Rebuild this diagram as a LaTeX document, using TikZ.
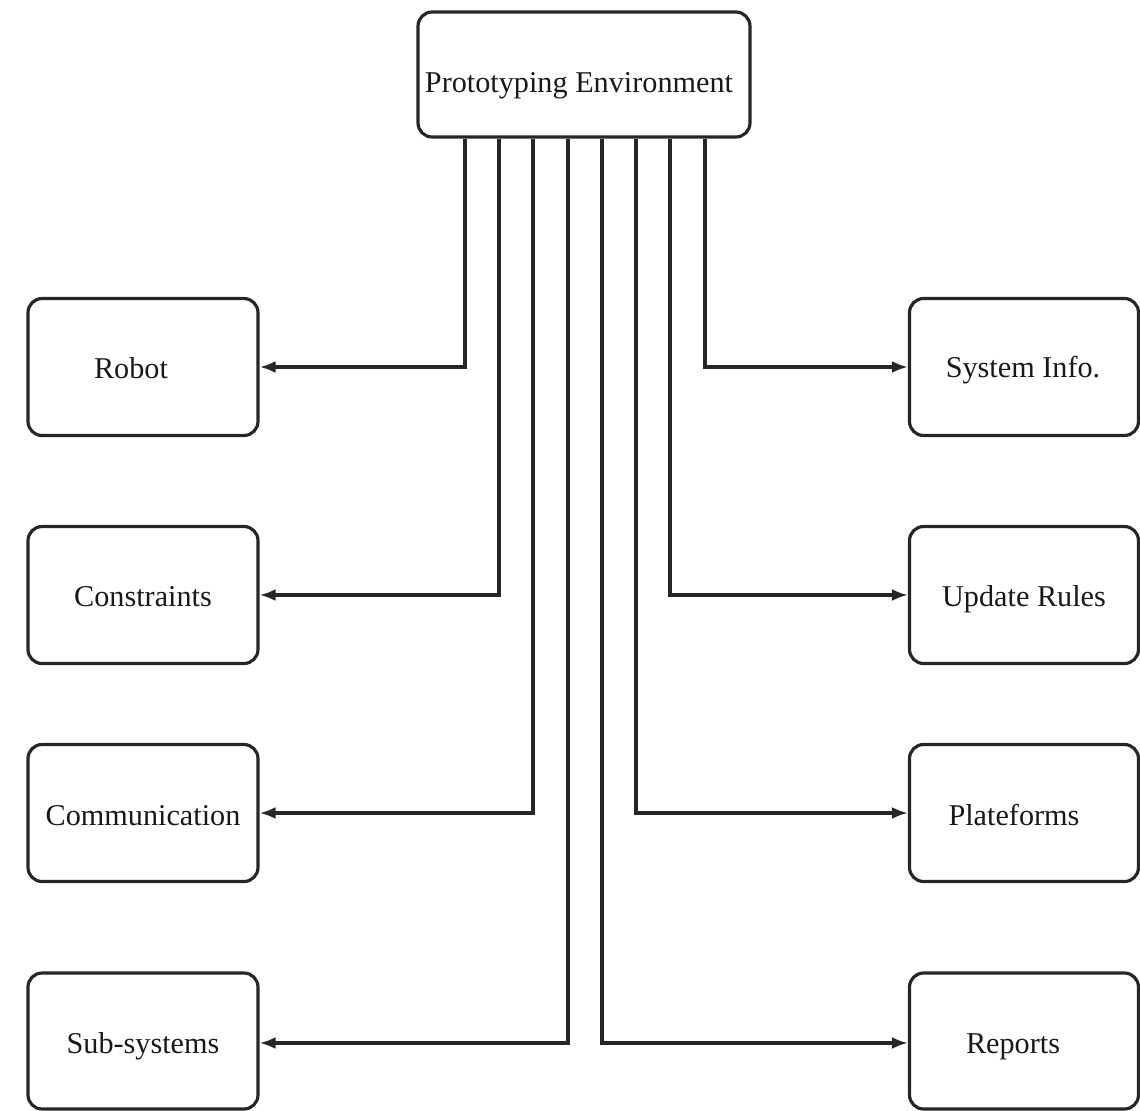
\documentclass[tikz,border=0pt]{standalone}
\usepackage{fontspec}
\setmainfont{Liberation Serif}
\usetikzlibrary{arrows.meta}
\begin{document}
\begin{tikzpicture}[x=0.02cm,y=-0.02cm,
  box/.style={draw=black!85,line width=1.8pt,rounded corners=0.28cm,inner sep=0pt,minimum width=4.58cm,minimum height=2.74cm},
  lbl/.style={font=\fontsize{17.2pt}{20pt}\selectfont,text=black!90,inner sep=0pt,anchor=base},
  arr/.style={draw=black!85,line width=1.8pt,-{Latex[length=0.32cm,width=0.24cm]}}]
\useasboundingbox (0,0) rectangle (1140,1110);
% top box
\node[box,minimum width=6.64cm,minimum height=2.5cm] (top) at (584,74.5) {};
\node[lbl] (topT) at (579,92) {Prototyping Environment};
% left boxes
\node[box,minimum width=4.6cm] (robot) at (143,367) {};
\node[box,minimum width=4.6cm] (cons) at (143,595) {};
\node[box,minimum width=4.6cm] (comm) at (143,813) {};
\node[box,minimum width=4.6cm,minimum height=2.72cm] (subs) at (143,1041) {};
% right boxes
\node[box] (sys) at (1024,367) {};
\node[box] (upd) at (1024,595) {};
\node[box] (plat) at (1024,813) {};
\node[box,minimum height=2.72cm] (rep) at (1024,1041) {};
% labels
\node[lbl] (robotT) at (131,378) {Robot};
\node[lbl] (consT) at (143,606) {Constraints};
\node[lbl] (commT) at (143,825) {Communication};
\node[lbl] (subsT) at (143,1053) {Sub-systems};
\node[lbl] (sysT) at (1023,377) {System Info.};
\node[lbl] (updT) at (1024,606) {Update Rules};
\node[lbl] (platT) at (1014,825) {Plateforms};
\node[lbl] (repT) at (1013,1053) {Reports};
% connectors
\draw[arr] (top.south -| 465,0) |- (robot.east);
\draw[arr] (top.south -| 499,0) |- (cons.east);
\draw[arr] (top.south -| 533,0) |- (comm.east);
\draw[arr] (top.south -| 568,0) |- ([yshift=-0.04cm]subs.east);
\draw[arr] (top.south -| 602,0) |- ([yshift=-0.04cm]rep.west);
\draw[arr] (top.south -| 636,0) |- (plat.west);
\draw[arr] (top.south -| 670,0) |- (upd.west);
\draw[arr] (top.south -| 705,0) |- (sys.west);
\end{tikzpicture}
\end{document}
